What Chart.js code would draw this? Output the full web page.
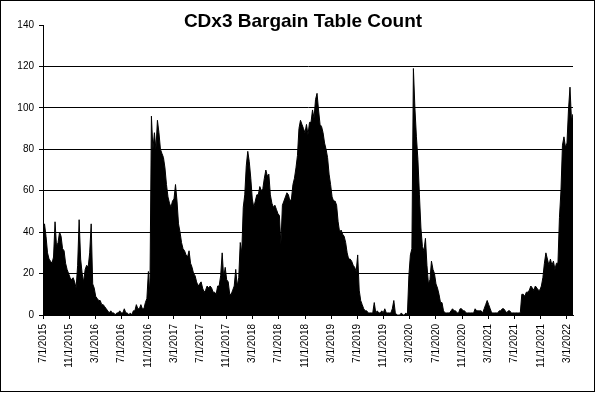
<!DOCTYPE html>
<html>
<head>
<meta charset="utf-8">
<script src="https://cdn.jsdelivr.net/npm/chart.js@4"></script>
<style>
html,body{margin:0;padding:0;background:#fff}
#wrap{width:595px;height:392px;box-sizing:border-box;border:1px solid #000;background:#fff}
canvas{display:block}
</style>
</head>
<body>
<div id="wrap"><canvas id="chart" width="593" height="390"></canvas></div>
<script>
const chartTitle = "CDx3 Bargain Table Count"

// one value per week, first week starts 7/1/2015
const startDate = "7/1/2015"
const stepDays = 7

const weeklyCounts = [
42,44,38,30,27,26,25,28,45,33,
35,40,38,32,31,25,22,20,18,17,
18,16,13,24,46,27,20,16,22,24,
23,30,44,15,13,9,8,7,7,5,
5,4,3,2,1,2,1,1,0,1,
1,2,1,1,3,1,1,0,1,0,
2,2,5,3,3,5,3,3,6,8,
21,10,96,80,88,80,94,88,80,78,
76,71,63,57,54,52,55,56,63,55,
44,40,35,32,31,29,28,31,25,23,
20,19,16,14,15,16,13,11,12,14,
13,14,13,11,11,10,14,14,19,30,
18,23,17,16,10,10,12,14,22,14,
18,35,30,52,58,72,79,74,66,56,
52,55,58,58,62,60,61,66,70,67,
68,58,54,52,53,51,49,48,34,53,
55,57,59,58,55,56,63,66,71,77,
90,94,92,90,88,92,87,93,93,99,
95,104,107,99,92,91,88,83,80,76,
68,63,57,55,55,53,45,40,41,39,
38,35,30,27,27,26,24,23,21,29,
12,7,5,3,2,2,1,1,1,1,
6,1,2,1,1,2,1,3,1,1,
1,1,3,7,1,0,0,0,1,0,
0,1,0,19,29,32,119,100,86,75,
58,42,33,31,37,24,15,17,26,22,
20,15,13,10,6,6,2,1,1,1,
1,2,3,2,2,1,1,3,3,2,
2,1,1,1,1,1,1,3,2,2,
2,2,1,3,5,7,5,3,1,1,
1,1,1,2,2,3,3,2,1,2,
2,1,1,1,1,1,1,1,10,10,
9,11,11,12,14,13,12,14,13,12,
12,14,18,25,30,27,24,27,24,26,
22,25,25,47,60,82,86,81,83,99,
110,94,97
]

const tickLabels = [
"7/1/2015","11/1/2015","3/1/2016","7/1/2016","11/1/2016","3/1/2017","7/1/2017",
"11/1/2017","3/1/2018","7/1/2018","11/1/2018","3/1/2019","7/1/2019","11/1/2019",
"3/1/2020","7/1/2020","11/1/2020","3/1/2021","7/1/2021","11/1/2021","3/1/2022"
]

const yTicks = [0,20,40,60,80,100,120,140]

function dayNumber(s){
let p = s.split("/").map(Number)
return Date.UTC(p[2],p[0]-1,p[1])/86400000
}

const day0 = dayNumber(startDate)
const tickDays = tickLabels.map(t => dayNumber(t)-day0)
const points = weeklyCounts.map((v,i) => ({x:i*stepDays,y:v}))

const labelFont = {family:"'Liberation Sans', Arial, sans-serif",size:10}

// title drawn by hand so it sits where the original one does
const titlePlugin = {
id:"titleText",
afterDraw(chart){
let ctx = chart.ctx
ctx.save()
ctx.font = "bold 19px 'Liberation Sans', Arial, sans-serif"
ctx.fillStyle = "#000"
ctx.textAlign = "center"
ctx.textBaseline = "alphabetic"
ctx.fillText(chartTitle,302,26)
ctx.restore()
}
}

new Chart(document.getElementById("chart"),{
type:"line",
data:{
datasets:[{
data:points,
borderColor:"#000",
backgroundColor:"#000",
borderWidth:1,
pointRadius:0,
fill:"origin",
tension:0
}]
},
options:{
responsive:false,
animation:false,
devicePixelRatio:1,
layout:{padding:{top:24,right:21,left:0,bottom:0}},
plugins:{legend:{display:false},tooltip:{enabled:false},title:{display:false}},
scales:{
x:{
type:"linear",
min:0,
max:(weeklyCounts.length-1)*stepDays,
afterBuildTicks: s => { s.ticks = tickDays.map(v => ({value:v})) },
afterFit: s => { s.height = 76 },
ticks:{
autoSkip:false,
minRotation:90,
maxRotation:90,
padding:5,
color:"#000",
font:labelFont,
callback:(v,i) => tickLabels[i]
},
grid:{drawOnChartArea:false,tickLength:4,color:"#000"},
border:{color:"#000",width:1}
},
y:{
min:0,
max:140,
afterBuildTicks: s => { s.ticks = yTicks.map(v => ({value:v})) },
afterFit: s => { s.width = 42 },
ticks:{color:"#000",font:labelFont,padding:5},
grid:{
color: c => (c.tick && c.tick.value===140) ? "rgba(0,0,0,0)" : "#000",
tickColor:"#000",
tickLength:4,
lineWidth:1
},
border:{color:"#000",width:1}
}
}
},
plugins:[titlePlugin]
})
</script>
</body>
</html>
